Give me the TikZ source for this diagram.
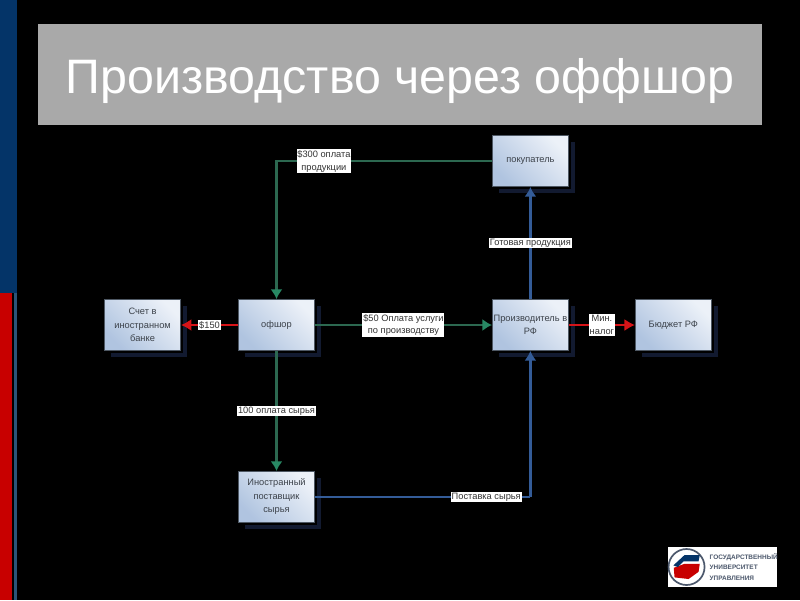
\documentclass[tikz,border=0pt]{standalone}
\usepackage{fontspec}
\setmainfont{Liberation Sans}
\usepackage{xcolor}
\usetikzlibrary{arrows.meta,positioning,shadows}
\definecolor{ink}{RGB}{60,66,74}
\definecolor{boxline}{RGB}{78,88,100}
\definecolor{palebox}{RGB}{236,241,248}
\definecolor{deepbox}{RGB}{176,196,224}
\definecolor{shade}{RGB}{18,26,48}
\definecolor{moneygreen}{RGB}{44,104,80}
\definecolor{tipgreen}{RGB}{40,136,100}
\definecolor{goodsblue}{RGB}{52,92,152}
\definecolor{taxred}{RGB}{214,20,24}
\definecolor{titlegray}{RGB}{169,169,169}
\definecolor{barblue}{RGB}{4,52,104}
\definecolor{barred}{RGB}{200,0,0}
\definecolor{barthin}{RGB}{44,84,120}
\definecolor{logotext}{RGB}{76,88,108}
\tikzset{
  party/.style={draw=boxline,line width=0.8pt,shading=axis,left color=palebox,right color=deepbox,
    shading angle=-45,text=ink,align=center,font=\fontsize{6.6}{9.6}\selectfont,
    minimum width=1.895cm,minimum height=1.27cm,inner sep=0pt,
    general shadow={shadow xshift=0.165cm,shadow yshift=-0.165cm,fill=shade},
    general shadow={shadow xshift=0.07cm,shadow yshift=-0.07cm,fill=black}},
  flowtag/.style={fill=white,text=black!80,align=center,font=\fontsize{6.6}{9.2}\selectfont,
    inner sep=0.6pt},
  money/.style={moneygreen,line width=1.1pt,-{Latex[length=2.4mm,width=3mm,color=tipgreen]}},
  moneybig/.style={moneygreen,line width=1.9pt,-{Latex[length=2.4mm,width=3mm,color=tipgreen]}},
  goods/.style={goodsblue,line width=2.3pt,-{Latex[length=2.4mm,width=3mm]}},
  tax/.style={taxred,line width=1.2pt,-{Latex[length=2.6mm,width=3mm]}}
}
\begin{document}
\begin{tikzpicture}[node distance=1.425cm]
  \useasboundingbox (0,0) rectangle (20,-15);
  \fill[black] (0,0) rectangle (20,-15);
  % side bars
  \fill[barblue] (0,0) rectangle (0.425,-7.325);
  \fill[barred] (0,-7.325) rectangle (0.3,-15);
  \fill[barthin] (0.35,-7.325) rectangle (0.425,-15);
  % title
  \node[fill=titlegray,text=white,minimum width=18.1cm,minimum height=2.525cm,inner sep=0pt,
    font=\fontsize{34.4}{36}\selectfont] (title) at (10,-1.8625) {\raisebox{-0.17cm}[\height][\depth]{Производство через оффшор}};
  % boxes
  \node[party] (offshor) at (6.9125,-8.125) {офшор};
  \node[party,left=of offshor] (bank) {Счет в\\иностранном\\банке};
  \node[party,right=4.425cm of offshor] (maker) {Производитель в\\РФ};
  \node[party,right=1.65cm of maker] (budget) {Бюджет РФ};
  \node[party,above=2.8cm of maker] (buyer) {покупатель};
  \node[party,below=3cm of offshor] (supplier) {Иностранный\\поставщик\\сырья};
  \coordinate (turn) at (supplier -| maker);
  % flows
  \draw[tax] (offshor) -- node[flowtag] {\$150} (bank);
  \draw[tax] (maker) -- node[flowtag] {Мин.\\налог} (budget);
  \draw[money] (offshor) -- node[flowtag] {\$50 Оплата услуги\\по производству} (maker);
  \draw[moneybig] (offshor) -- node[flowtag] {100 оплата сырья} (supplier);
  \draw[moneybig] (buyer) -| node[flowtag,pos=0.39] {\$300 оплата\\продукции} (offshor);
  \draw[goods] (maker) -- node[flowtag] {Готовая продукция} (buyer);
  \draw[goodsblue,line width=1.1pt] (supplier.east) -- node[flowtag,pos=0.795] {Поставка сырья} (turn);
  \draw[goods] (turn) -- (maker);
  % logo
  \node[fill=white,minimum width=2.725cm,minimum height=1cm,inner sep=0pt] (logo) at (18.0625,-14.175) {};
  \node[circle,draw=logotext,line width=1.2pt,minimum size=0.9cm,inner sep=0pt,right=0pt of logo.west] (seal) {};
  \fill[barred] (seal.center)+(-0.32,-0.02) -- +(-0.05,0.08) -- +(0.33,0.08) -- +(0.3,-0.12) -- +(0.05,-0.3) -- +(-0.3,-0.26) -- cycle;
  \fill[barblue] (seal.center)+(-0.33,0.04) -- +(-0.05,0.3) -- +(0.33,0.3) -- +(0.3,0.14) -- +(-0.08,0.14) -- +(-0.22,0.0) -- cycle;
  \node[text=logotext,align=left,inner sep=0pt,font=\bfseries\fontsize{4.6}{7.6}\selectfont,
    right=0.1cm of seal] (logotxt) {ГОСУДАРСТВЕННЫЙ\\УНИВЕРСИТЕТ\\УПРАВЛЕНИЯ};
\end{tikzpicture}
\end{document}
